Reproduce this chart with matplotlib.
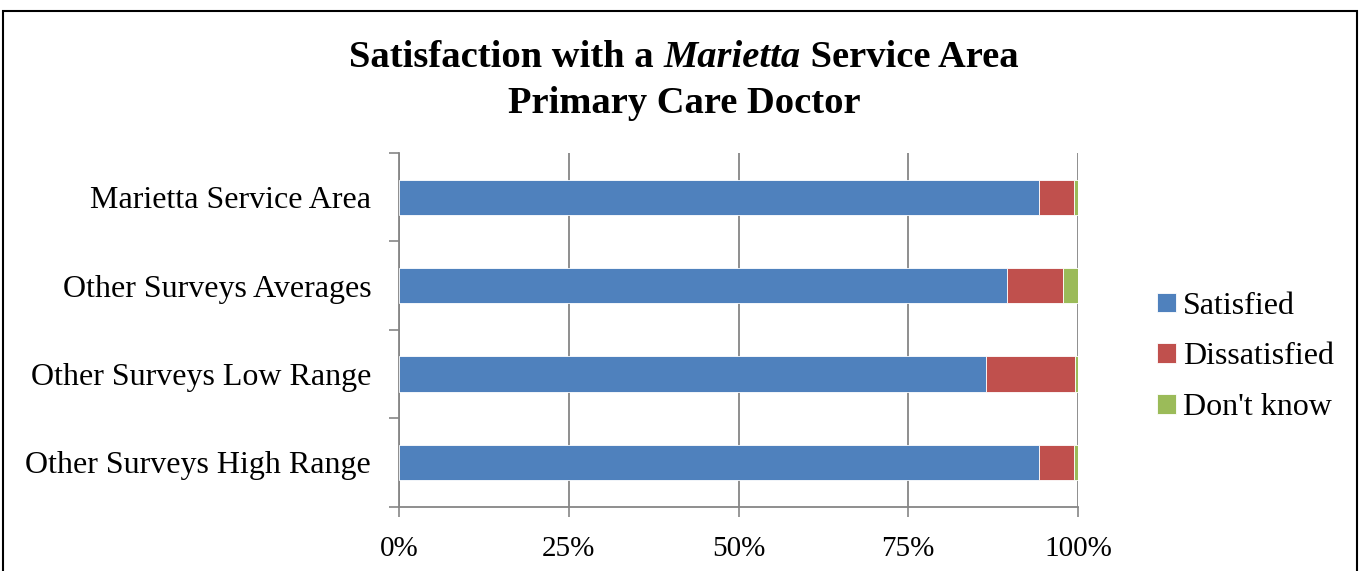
import matplotlib
matplotlib.use("Agg")
import matplotlib.pyplot as plt
from matplotlib.patches import Rectangle
import numpy as np

categories = ["Marietta Service Area", "Other Surveys Averages",
              "Other Surveys Low Range", "Other Surveys High Range"]
satisfied = [94.2, 89.6, 86.4, 94.2]
dissatisfied = [5.2, 8.2, 13.1, 5.2]
dont_know = [0.6, 2.2, 0.5, 0.6]
series_names = ["Satisfied", "Dissatisfied", "Don't know"]
colors = ["#4F81BD", "#C0504D", "#9BBB59"]
xticks = [0, 25, 50, 75, 100]
xticklabels = ["0%", "25%", "50%", "75%", "100%"]

plt.rcParams['font.family'] = ['Liberation Serif', 'DejaVu Serif']

W, H = 1360, 571
fig = plt.figure(figsize=(W / 100, H / 100), dpi=100)
ax = fig.add_axes([399 / W, 1 - 506.7 / H, (1078 - 399) / W, (506.7 - 153) / H])

y = np.arange(len(categories))
left = np.zeros(len(categories))
for vals, c, name in zip([satisfied, dissatisfied, dont_know], colors, series_names):
    ax.barh(y, vals, left=left, height=0.40, color=c, label=name,
            edgecolor="white", linewidth=0.6, zorder=3)
    left = left + np.array(vals)

ax.set_xlim(0, 100)
ax.set_ylim(len(categories) - 0.5, -0.5)
ax.set_xticks(xticks)
ax.set_xticklabels(xticklabels, fontsize=21)
ax.set_yticks(y)
ax.set_yticklabels(categories, fontsize=23)
ax.set_yticks(np.arange(len(categories) + 1) - 0.5, minor=True)
ax.tick_params(axis='y', which='major', length=0, pad=20)
ax.tick_params(axis='y', which='minor', length=7, width=1.2, color="#868686", direction='out')
ax.tick_params(axis='x', length=7, width=1.2, color="#868686", direction='out', pad=14)
ax.xaxis.grid(True, color="#868686", linewidth=1.3, zorder=0)
ax.set_axisbelow(True)
for s in ["top", "right"]:
    ax.spines[s].set_visible(False)
for s in ["left", "bottom"]:
    ax.spines[s].set_color("#868686")
    ax.spines[s].set_linewidth(1.3)

leg = fig.legend(loc="center left", bbox_to_anchor=(1151 / W, 1 - 357 / H),
                 frameon=False, fontsize=23, handlelength=0.58, handleheight=0.58,
                 handletextpad=0.22, labelspacing=0.68, borderaxespad=0, borderpad=0.2)

# title with italic part
renderer = fig.canvas.get_renderer()
pieces = [("Satisfaction with a ", "normal"), ("Marietta", "italic"), (" Service Area", "normal")]
texts = []
for txt, st in pieces:
    t = fig.text(0, 1 - 67 / H, txt, fontsize=27.7, fontweight='bold', style=st, va='baseline', ha='left')
    texts.append(t)
widths = [t.get_window_extent(renderer=renderer).width for t in texts]
total = sum(widths)
x0 = 684 - total / 2
for t, w in zip(texts, widths):
    t.set_x(x0 / W)
    x0 += w
fig.text(684 / W, 1 - 113 / H, "Primary Care Doctor", fontsize=27.7, fontweight='bold',
         va='baseline', ha='center')

fig.patches.append(Rectangle((3 / W, -0.1), (1357 - 3) / W, 1.1 - 11 / H,
                             transform=fig.transFigure, fill=False, edgecolor="black",
                             linewidth=1.5))

fig.savefig("out.png", dpi=100)
